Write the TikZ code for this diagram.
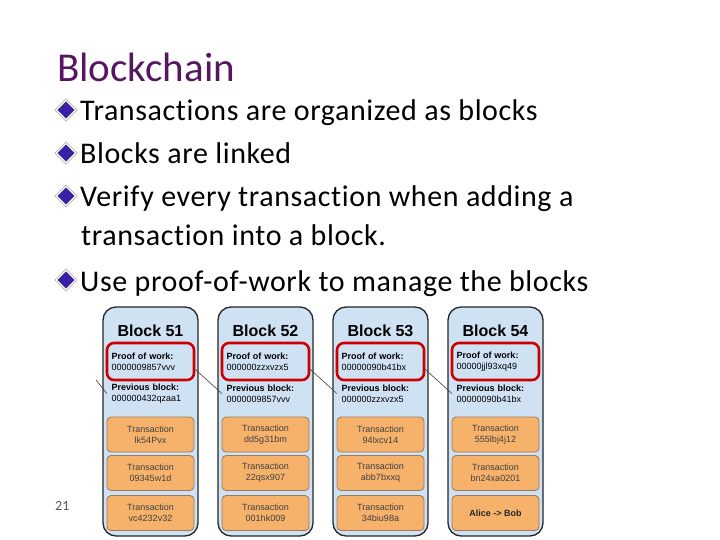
\documentclass[tikz,border=0pt]{standalone}
\usepackage{fontspec}
\setmainfont{Carlito}[Ligatures={NoCommon}]
\newfontfamily\pointfont{Carlito}[Ligatures={NoCommon}, LetterSpace=2]
\newfontfamily\blockfont{Liberation Sans}
\usepackage{xcolor}
\usetikzlibrary{
    shapes.geometric
}

\definecolor{slidepurple}{HTML}{561660}
\definecolor{blockblue}{HTML}{CFE2F3}
\definecolor{powred}{HTML}{CC0000}
\definecolor{txorange}{HTML}{F6B26B}
\definecolor{txborder}{HTML}{9C7A5E}
\definecolor{bulletblue}{HTML}{3B1FA6}

\begin{document}
\begin{tikzpicture}[
    x=1pt, y=-1pt,
    heading/.style={
        anchor=base west,
        font=\fontsize{41}{44}\selectfont,
        text=slidepurple,
        inner sep=0pt
    },
    point/.style={
        anchor=base west,
        font=\pointfont\fontsize{30}{34}\selectfont,
        inner sep=0pt
    },
    bullet/.style={
        diamond,
        draw=black!60,
        fill=bulletblue,
        double=white,
        double distance=1.4pt,
        inner sep=0pt,
        minimum width=20pt,
        minimum height=20pt
    },
    block/.style={
        rectangle,
        rounded corners=13pt,
        draw=black!85,
        line width=1.3pt,
        fill=blockblue,
        minimum width=95pt,
        minimum height=229pt
    },
    blocktitle/.style={
        font=\blockfont\bfseries\fontsize{16}{18}\selectfont,
        inner sep=0pt
    },
    pow/.style={
        rectangle,
        rounded corners=7pt,
        draw=powred,
        line width=2.6pt,
        font=\blockfont\fontsize{9}{11}\selectfont,
        align=left,
        text width=78pt,
        inner xsep=4.5pt,
        minimum height=37pt
    },
    prev/.style={
        font=\blockfont\fontsize{9}{11}\selectfont,
        align=left,
        text width=78pt,
        inner xsep=4.5pt,
        inner ysep=1pt
    },
    tx/.style={
        rectangle,
        rounded corners=4pt,
        draw=txborder,
        line width=0.8pt,
        fill=txorange,
        font=\blockfont\fontsize{9}{11}\selectfont,
        text=black!75,
        align=center,
        minimum width=87pt,
        minimum height=35pt,
        inner sep=1pt
    },
    link/.style={
        draw=black!75,
        line width=0.6pt
    }
]

\useasboundingbox (0,0) rectangle (720,540);

% =========================================================
% Slide text
% =========================================================
\node[heading] (title) at (57,82) {Blockchain};

\node[bullet] (b1) at (66,110) {};
\node[point] (p1) at (80,121) {Transactions are organized as blocks};
\node[bullet] (b2) at (66,153) {};
\node[point] (p2) at (80,164) {Blocks are linked};
\node[bullet] (b3) at (66,196) {};
\node[point] (p3) at (80,207) {Verify every transaction when adding a};
\node[point] (p3b) at (81,245) {transaction into a block.};
\node[bullet] (b4) at (66,280) {};
\node[point] (p4) at (80,291) {Use proof-of-work to manage the blocks};

\node[font=\fontsize{14}{16}\selectfont, text=black!65, anchor=base west, inner sep=0pt]
    (pagenum) at (55,510) {21};

% =========================================================
% Block 51
% =========================================================
\node[block] (block51) at (150.5,421.5) {};
\node[blocktitle] (title51) at (150.5,331) {Block 51};
\node[pow] (pow51) at (150.5,361.5) {\textbf{Proof of work:}\\0000009857vvv};
\node[prev] (prev51) at (150.5,393.5) {\textbf{Previous block:}\\000000432qzaa1};
\node[tx] (tx51a) at (150.5,434.5) {Transaction\\lk54Pvx};
\node[tx] (tx51b) at (150.5,473) {Transaction\\09345w1d};
\node[tx] (tx51c) at (150.5,513) {Transaction\\vc4232v32};

% =========================================================
% Block 52
% =========================================================
\node[block] (block52) at (265.5,421.5) {};
\node[blocktitle] (title52) at (265.5,331) {Block 52};
\node[pow] (pow52) at (265.5,361.5) {\textbf{Proof of work:}\\000000zzxvzx5};
\node[prev] (prev52) at (265.5,393.5) {\textbf{Previous block:}\\0000009857vvv};
\node[tx] (tx52a) at (265.5,434.5) {Transaction\\dd5g31bm};
\node[tx] (tx52b) at (265.5,473) {Transaction\\22qsx907};
\node[tx] (tx52c) at (265.5,513) {Transaction\\001hk009};

% =========================================================
% Block 53
% =========================================================
\node[block] (block53) at (380.5,421.5) {};
\node[blocktitle] (title53) at (380.5,331) {Block 53};
\node[pow] (pow53) at (380.5,361.5) {\textbf{Proof of work:}\\00000090b41bx};
\node[prev] (prev53) at (380.5,393.5) {\textbf{Previous block:}\\000000zzxvzx5};
\node[tx] (tx53a) at (380.5,434.5) {Transaction\\94lxcv14};
\node[tx] (tx53b) at (380.5,473) {Transaction\\abb7bxxq};
\node[tx] (tx53c) at (380.5,513) {Transaction\\34biu98a};

% =========================================================
% Block 54
% =========================================================
\node[block] (block54) at (495.5,421.5) {};
\node[blocktitle] (title54) at (495.5,331) {Block 54};
\node[pow] (pow54) at (495.5,361.5) {\textbf{Proof of work:}\\00000jjl93xq49};
\node[prev] (prev54) at (495.5,393.5) {\textbf{Previous block:}\\00000090b41bx};
\node[tx] (tx54a) at (495.5,434.5) {Transaction\\555lbj4j12};
\node[tx] (tx54b) at (495.5,473) {Transaction\\bn24xa0201};
\node[tx, font=\blockfont\bfseries\fontsize{9}{11}\selectfont, text=black!85] (tx54c) at (495.5,513) {Alice -> Bob};

% =========================================================
% Links between blocks
% =========================================================
\coordinate (prev50) at (96,380);
\draw[link] (prev50) -- (prev51.west);
\draw[link] (pow51.-10) -- (prev52.west);
\draw[link] (pow52.-10) -- (prev53.west);
\draw[link] (pow53.-10) -- (prev54.west);

\end{tikzpicture}
\end{document}
